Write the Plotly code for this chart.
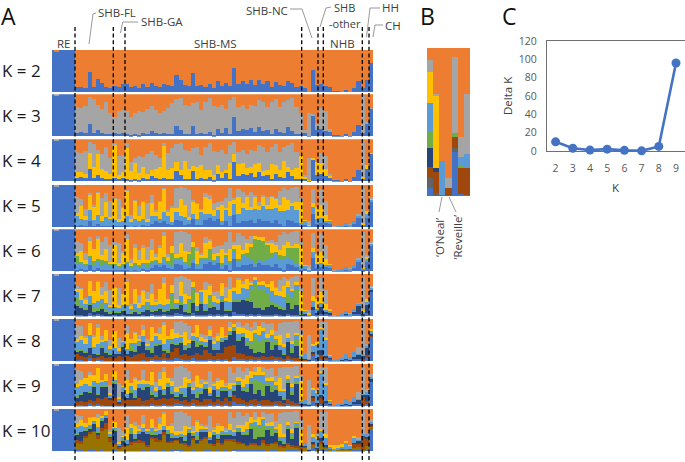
import plotly.graph_objects as go

W, H = 685, 462
C = dict(blue="#4472C4", orange="#ED7D31", gray="#A5A5A5", yellow="#FFC000", lt="#5B9BD5",
         green="#70AD47", navy="#264478", brown="#9E480E", dg="#636363", olive="#997300")

RE_BLUE = [100, 96, 100, 100, 100, 100]
RE_GRAY = [0, 4, 0, 0, 0, 0]

blue2 = [12,13,10,49,12,31,22,12,10,16,12,21,
         20,12,15,10,20,12,23,16,12,20,17,14,
         42,30,18,14,45,14,18,12,20,10,28,15,
         22,14,57,20,28,20,30,18,30,20,26,12,
         25,18,15,28,22,12,16,10,2,54,18,20,
         14,12,3,3,2,5,2,10,28,10,30,70]
blue3 = [8,10,7,30,8,14,8,6,6,8,5,7,
         6,4,6,4,8,5,12,8,5,8,6,5,
         25,16,6,5,24,6,8,5,10,4,18,8,
         20,6,45,12,18,14,20,10,22,12,16,5,
         18,10,8,22,12,5,6,8,2,50,15,18,
         12,10,3,3,2,5,2,10,28,8,30,65]
gray3 = [62,58,65,62,80,61,57,76,49,37,55,55,
         54,41,49,56,50,60,60,54,50,52,62,73,
         63,74,69,67,54,76,54,75,80,68,52,67,
         45,79,47,58,57,51,55,62,63,68,54,77,
         70,60,74,63,78,65,49,7,53,2,17,50,
         48,8,0,0,0,0,0,0,0,87,5,3]
yellow4 = [14,12,10,38,25,50,22,18,12,78,10,16,
           72,20,38,15,25,12,14,22,30,75,20,26,
           20,12,42,24,12,28,30,22,18,12,20,15,
           8,38,20,30,25,18,14,30,22,12,10,35,
           20,16,40,12,15,26,55,2,2,5,30,25,
           18,3,0,0,0,0,0,0,0,2,8,3]
gray4 = [48,46,55,24,55,11,35,58,37,4,45,39,
         12,21,11,41,25,48,46,32,20,7,42,47,
         43,62,27,43,42,48,24,53,62,56,32,52,
         37,41,27,28,32,33,41,32,41,56,44,42,
         50,44,34,51,63,39,0,5,51,0,0,25,
         30,5,0,0,0,0,0,0,0,85,0,0]
blue5 = [4,5,3,16,4,8,4,3,3,4,3,4,
         3,2,3,2,5,3,8,14,10,16,8,5,
         18,14,5,8,20,5,6,18,22,16,20,6,
         16,4,30,10,14,16,18,10,20,14,14,10,
         18,8,4,18,14,10,3,6,2,32,8,10,
         10,8,2,2,2,4,2,8,22,4,22,60]
lt5 = [22,16,14,24,14,22,12,22,16,14,10,12,
       24,10,18,12,16,10,20,14,10,20,18,8,
       18,14,20,10,12,14,30,14,10,10,20,10,
       24,22,26,22,32,26,24,34,22,36,30,34,
       28,30,34,24,36,30,8,10,2,16,12,12,
       6,8,1,2,4,6,4,8,6,4,10,5]
yellow5 = [8,30,10,38,32,52,10,34,6,50,6,30,
           60,8,42,14,40,8,30,10,40,55,12,34,
           10,40,28,6,30,38,6,40,34,16,8,38,
           6,36,10,40,12,32,6,30,8,24,8,28,
           22,16,34,22,8,20,50,2,2,10,28,30,
           14,2,0,0,0,0,0,0,0,2,6,3]
top5 = [72,68,44,80,52,84,70,80,62,70,66,48,
        88,30,64,50,62,58,76,40,62,92,40,50,
        94,96,92,88,64,58,44,80,76,58,60,62,
        70,92,70,90,84,76,84,76,60,76,72,74,
        70,86,92,88,94,96,70,10,14,90,34,90,
        62,6,4,4,5,6,8,10,32,92,38,72]
lt6 = [14,12,10,18,10,18,10,16,12,10,8,10,
       18,8,14,10,14,8,14,10,8,14,14,8,
       12,12,14,8,8,10,22,12,8,8,14,8,
       20,18,20,16,24,18,12,10,10,10,14,24,
       22,22,26,14,14,10,6,8,2,14,10,10,
       6,8,1,2,4,6,4,8,6,4,8,5]
green6 = [18,6,4,3,10,4,14,6,2,3,2,3,
          2,2,3,2,2,10,3,2,3,3,2,30,
          2,8,4,26,30,2,4,2,24,4,2,6,
          2,2,4,3,2,10,28,56,44,48,34,10,
          6,8,6,24,28,36,3,0,0,0,0,0,
          0,0,0,0,0,0,0,0,0,0,0,0]
yellow6 = [8,26,10,34,28,46,10,28,6,46,6,26,
           54,8,36,12,34,6,26,10,34,50,12,18,
           10,34,24,4,12,32,6,34,20,14,8,32,
           6,30,8,34,10,24,6,8,6,10,6,22,
           16,12,26,14,4,8,48,2,2,10,24,26,
           14,2,0,0,0,0,0,0,0,2,6,3]
blue7 = [3,3,2,8,3,5,3,2,2,3,2,3,
         2,2,2,2,3,2,5,4,3,5,3,3,
         8,5,3,3,8,3,3,3,5,3,6,3,
         5,2,10,5,6,4,6,4,6,4,4,3,
         5,3,2,6,4,3,2,3,2,15,4,6,
         6,4,2,2,2,4,2,6,6,2,8,58]
navy7 = [22,18,14,20,8,10,14,8,6,6,8,12,
         4,6,10,6,8,14,6,10,16,6,10,14,
         10,22,8,6,24,10,28,12,14,20,10,30,
         10,12,26,30,34,32,28,16,14,12,18,24,
         18,14,12,26,14,24,2,2,1,8,3,16,
         4,3,0,0,1,2,1,4,18,6,18,4]
brown8 = [14,10,8,6,4,6,10,6,8,4,10,8,
          12,8,14,16,18,8,6,12,8,14,6,20,
          24,10,14,10,8,18,12,24,16,10,14,18,
          30,34,28,16,12,8,6,6,4,8,6,10,
          6,8,4,6,5,4,3,2,1,2,3,10,
          3,2,0,0,0,0,0,0,0,4,6,2]
navy8 = [6,12,10,18,12,6,20,14,6,12,6,24,
         4,14,8,20,26,18,8,22,30,6,12,20,
         8,30,10,20,34,12,26,8,30,16,8,26,
         16,28,36,28,40,24,18,10,12,8,36,14,
         28,16,8,34,12,30,2,1,1,6,2,10,
         3,1,0,0,1,2,1,4,10,8,18,5]
lt8 = [20,24,18,28,14,20,10,24,12,10,6,10,
       10,6,16,8,12,6,14,20,8,12,26,8,
       14,10,8,8,8,10,6,8,6,10,18,6,
       6,5,6,12,6,10,8,10,16,20,6,14,
       8,10,14,6,10,12,4,12,2,14,30,50,
       40,8,2,3,6,12,8,12,2,2,6,8]
green8 = [3,2,4,2,2,4,3,3,2,2,1,2,
          2,14,3,2,2,3,14,2,2,4,6,3,
          2,2,4,3,2,14,2,2,3,3,2,3,
          2,2,2,3,2,10,10,36,24,34,4,22,
          6,2,6,3,10,14,2,0,0,0,0,0,
          0,0,0,0,0,0,0,0,0,0,0,0]
yellow8 = [6,10,14,28,24,38,4,24,6,40,6,2,
           36,8,26,6,12,4,34,8,14,44,8,22,
           10,6,30,6,6,30,8,8,14,6,14,24,
           2,10,6,16,12,18,24,8,22,4,8,10,
           6,24,6,12,8,3,50,0,0,4,6,6,
           4,1,0,0,0,0,0,0,0,0,0,3]
top8 = [86,84,60,82,62,88,60,72,50,66,56,48,
        86,46,70,62,86,52,74,58,80,92,52,66,
        92,96,90,84,60,74,64,62,84,58,66,60,
        56,92,78,94,84,90,80,94,72,92,88,90,
        72,90,94,92,94,96,74,12,62,34,40,94,
        92,10,3,4,6,12,8,14,34,92,40,76]
brown9 = [8,10,8,6,10,16,14,20,12,16,6,14,
          14,12,14,18,10,12,16,10,14,16,14,18,
          10,8,12,8,10,12,8,14,12,8,12,10,
          14,10,18,14,8,6,8,14,6,12,10,8,
          8,10,6,12,8,6,3,2,1,4,2,14,
          4,1,0,0,0,0,0,0,0,20,4,0]
navy9 = [10,14,24,18,34,8,30,24,6,36,4,18,
         4,18,6,24,28,32,6,10,22,6,30,10,
         6,18,8,36,12,6,20,26,8,28,6,24,
         18,12,10,32,24,24,38,12,26,8,36,22,
         28,12,8,38,14,44,2,1,1,6,2,8,
         3,1,0,0,1,2,1,4,10,6,16,6]
lt9 = [22,18,18,14,10,24,8,12,4,6,4,10,
       8,6,14,6,10,6,14,10,8,10,6,14,
       8,10,16,6,8,12,10,8,4,6,16,6,
       8,14,10,6,6,8,6,10,14,22,6,10,
       6,10,14,6,12,8,4,8,2,14,24,50,
       38,8,2,3,6,12,8,12,2,2,6,5]
green9 = [3,2,2,2,2,3,3,2,2,2,1,2,
          2,10,3,2,2,3,10,2,2,4,3,3,
          2,2,4,3,2,12,2,2,3,3,2,3,
          2,2,2,3,2,10,8,34,22,30,4,18,
          4,2,6,3,8,8,1,0,0,0,0,0,
          0,0,0,0,0,0,0,0,0,0,0,0]
yellow9 = [8,16,12,26,14,34,4,16,6,20,6,2,
           32,8,26,8,10,4,30,10,16,40,10,14,
           12,6,26,8,4,28,10,6,14,6,18,16,
           2,16,6,10,18,22,18,8,20,4,6,8,
           6,30,6,10,8,3,48,0,0,4,6,6,
           4,1,0,0,0,0,0,0,0,0,0,0]
blue10 = [3,3,2,4,3,2,3,2,2,3,2,2,
          2,2,2,2,3,2,3,3,2,3,2,3,
          5,3,2,2,4,2,2,3,3,2,3,2,
          4,2,5,4,3,3,4,3,3,3,2,3,
          4,2,2,3,3,3,2,2,1,12,3,5,
          4,3,1,1,1,1,1,3,3,2,6,55]
olive10 = [18,14,30,38,44,28,46,50,20,14,6,10,
           12,14,18,20,16,10,28,20,22,36,18,18,
           20,16,14,10,24,16,22,26,16,12,18,14,
           22,24,18,14,16,10,12,14,10,18,12,16,
           14,10,8,12,8,6,2,8,1,4,2,12,
           6,4,2,3,3,4,3,6,8,2,6,3]
brown10 = [6,8,4,4,2,10,6,14,10,4,4,4,
           2,6,4,4,6,4,4,8,4,6,2,4,
           4,2,4,3,4,4,6,6,2,4,6,3,
           4,4,6,4,2,3,4,4,2,6,4,2,
           4,4,2,6,3,4,8,2,1,2,2,8,
           2,1,0,1,1,0,1,10,6,30,18,2]
navy10 = [14,22,14,8,16,4,18,14,4,28,2,10,
          2,20,6,16,22,26,4,8,14,6,20,8,
          4,14,6,30,6,4,16,12,6,22,4,22,
          10,10,8,26,20,22,34,8,18,6,34,16,
          22,10,6,34,16,42,2,1,1,4,2,6,
          2,0,0,0,0,0,0,2,8,4,4,6]
lt10 = [14,10,6,6,4,10,4,4,4,4,2,6,
        6,4,8,4,6,4,6,6,6,4,6,8,
        4,6,8,4,5,8,6,6,3,4,8,4,
        5,8,6,4,3,4,4,6,8,14,4,6,
        4,6,10,4,6,4,1,6,1,14,20,16,
        18,4,2,2,6,14,8,10,2,2,6,3]
yellow10 = [8,14,8,18,10,22,4,10,6,14,6,2,
            30,8,20,6,10,4,22,8,14,30,8,16,
            10,4,22,6,4,24,8,4,12,4,18,12,
            2,14,6,8,16,18,16,6,18,4,6,8,
            6,30,8,8,8,3,36,0,0,4,6,6,
            8,3,10,8,6,5,3,6,0,0,0,0]

# "top" = height of the lower edge of the orange band; the gray band fills up to it.
PANELS = [
    ("K = 2", [("blue", blue2)]),
    ("K = 3", [("blue", blue3), ("gray", gray3)]),
    ("K = 4", [("blue", blue3), ("yellow", yellow4), ("gray", gray4)]),
    ("K = 5", [("blue", blue5), ("lt", lt5), ("yellow", yellow5), ("top", top5)]),
    ("K = 6", [("blue", blue5), ("lt", lt6), ("green", green6), ("yellow", yellow6), ("top", top5)]),
    ("K = 7", [("blue", blue7), ("navy", navy7), ("green", green6), ("lt", lt6), ("yellow", yellow6), ("top", top5)]),
    ("K = 8", [("blue", blue7), ("brown", brown8), ("navy", navy8), ("green", green8), ("lt", lt8), ("yellow", yellow8), ("top", top8)]),
    ("K = 9", [("blue", blue7), ("brown", brown9), ("navy", navy9), ("green", green9), ("lt", lt9), ("yellow", yellow9), ("top", top8)]),
    ("K = 10", [("blue", blue10), ("olive", olive10), ("brown", brown10), ("navy", navy10), ("green", green9), ("lt", lt10), ("yellow", yellow10), ("top", top8)]),
]
TOPS = [49.5, 94.3, 139.3, 184.5, 229.3, 274, 319, 364, 409]
PANEL_H = 42.4

group_labels = ["RE", "SHB-MS", "NHB"]
group_x = [64, 215, 342]
divider_x = [75, 113.3, 125, 301.7, 318, 323.3, 362.3, 369]

# Panel B
b_blue = [5.2, 0, 0.9, 0, 30, 1.4, 0.7]
b_dg = [7, 1.8, 0, 0.5, 2.7, 0, 0]
b_brown = [7.2, 14.4, 0, 4.7, 7, 17.4, 18]
b_navy = [13.1, 2.5, 0, 0, 0, 0, 0]
b_green = [10.8, 0, 0, 0, 2.7, 1.8, 0]
b_lt = [19.4, 0, 22.6, 0, 0, 5.9, 9.9]
b_yellow = [20.8, 49, 0, 0, 0, 0, 0]
b_gray = [8.1, 1.1, 0, 7, 51.2, 13.1, 40.2]
b_orange = [8.4, 31.2, 76.5, 87.8, 6.3, 60.5, 31.2]
b_series = [("blue", b_blue), ("dg", b_dg), ("brown", b_brown), ("navy", b_navy), ("green", b_green),
            ("lt", b_lt), ("yellow", b_yellow), ("gray", b_gray), ("orange", b_orange)]

# Panel C
delta_k_x = [2, 3, 4, 5, 6, 7, 8, 9]
delta_k_y = [10, 3, 1, 2, 0.7, 0.2, 5, 96]

FONT = "Open Sans, Noto Sans, sans-serif"
fig = go.Figure()
layout = {}


def px(x):
    return x / W


def py(y):
    return 1 - y / H


n_re = len(RE_BLUE)
for i, (label, series) in enumerate(PANELS):
    idx = i + 1
    suffix = "" if idx == 1 else str(idx)
    total = [0] * (n_re + 72)
    for key, vals in series:
        assert len(vals) == 72, (label, key, len(vals))
        if key == "top":
            vals = [max(0, t - s) for t, s in zip(vals, total[n_re:])]
            key = "gray"
        head = RE_BLUE if key == "blue" else RE_GRAY if key == "gray" else [0] * n_re
        full = head + vals
        total = [a + b for a, b in zip(total, full)]
        fig.add_bar(x=[c + 0.5 for c in range(len(full))], y=full, width=1, marker=dict(color=C[key], line_width=0),
                    xaxis="x" + suffix, yaxis="y" + suffix, showlegend=False, name=key)
    rest = [max(0, 100 - t) for t in total]
    fig.add_bar(x=[c + 0.5 for c in range(len(rest))], y=rest, width=1, marker=dict(color=C["orange"], line_width=0),
                xaxis="x" + suffix, yaxis="y" + suffix, showlegend=False, name="orange")
    layout["xaxis" + suffix] = dict(domain=[px(52), px(373)], range=[0.4, 78], visible=False, anchor="y" + suffix)
    layout["yaxis" + suffix] = dict(domain=[py(TOPS[i] + PANEL_H), py(TOPS[i])], range=[0, 100], visible=False,
                                    anchor="x" + suffix)

for key, vals in b_series:
    fig.add_bar(x=list(range(len(vals))), y=vals, width=1, marker=dict(color=C[key], line_width=0),
                xaxis="x10", yaxis="y10", showlegend=False, name=key)
layout["xaxis10"] = dict(domain=[px(427), px(470)], range=[-0.5, 6.5], visible=False, anchor="y10")
layout["yaxis10"] = dict(domain=[py(196), py(48)], range=[0, 100], visible=False, anchor="x10")

fig.add_scatter(x=delta_k_x, y=delta_k_y, mode="lines+markers", xaxis="x11", yaxis="y11", showlegend=False,
                line=dict(color=C["blue"], width=2.6), marker=dict(color=C["blue"], size=9), cliponaxis=False)
axis_font = dict(family=FONT, size=10.5, color="#595959")
layout["xaxis11"] = dict(domain=[px(547), px(684.6)], range=[1.5, 9.5], dtick=1, anchor="y11", showgrid=False,
                         zeroline=False, showline=True, mirror=True, linecolor="#6f6f6f", linewidth=1.2,
                         ticks="outside", ticklen=7, tickcolor="rgba(0,0,0,0)", tickfont=axis_font)
layout["yaxis11"] = dict(domain=[py(151), py(41)], range=[0, 120], dtick=20, anchor="x11", showgrid=False,
                         zeroline=False, showline=True, mirror=True, linecolor="#6f6f6f", linewidth=1.2,
                         ticks="outside", ticklen=7, tickcolor="rgba(0,0,0,0)", tickfont=axis_font)

shapes = []
for x in divider_x:
    shapes.append(dict(type="line", xref="paper", yref="paper", x0=px(x), x1=px(x), y0=py(27), y1=py(461.5),
                       line=dict(color="black", width=1.3, dash="4px,2.6px")))
leaders = [
    [(89, 44), (93, 14), (96, 13)],
    [(120.5, 33), (122.7, 22), (138, 22)],
    [(290, 9), (302, 9), (312, 38)],
    [(320, 27), (326, 8), (331, 7)],
    [(366.5, 37), (370, 8), (380, 8)],
    [(373, 37), (375, 25), (383, 25)],
    [(442, 197), (439, 212)],
    [(449, 197), (456, 212)],
]
for pts in leaders:
    for (x0, y0), (x1, y1) in zip(pts, pts[1:]):
        shapes.append(dict(type="line", xref="paper", yref="paper", x0=px(x0), x1=px(x1), y0=py(y0), y1=py(y1),
                           line=dict(color="#7f7f7f", width=0.8)))

ann = []


def text(s, x, y, size=11.5, color="#404040", anchor="left", angle=0):
    ann.append(dict(text=s, x=px(x), y=py(y), xref="paper", yref="paper", xanchor=anchor, yanchor="middle",
                    showarrow=False, textangle=angle, borderpad=0, font=dict(family=FONT, size=size, color=color)))


for s, x in zip(group_labels, group_x):
    text(s, x, 43, anchor="center")
text("SHB-FL", 97, 12.7)
text("SHB-GA", 140, 21.7)
text("SHB-NC", 245, 10)
text("SHB", 333, 7.5, size=11)
text("-other", 328, 23, size=11)
text("HH", 381, 8)
text("CH", 384, 26)
for (label, _), top in zip(PANELS, TOPS):
    text(label, 1, top + PANEL_H / 2, size=17, color="#1a1a1a")
text("A", 0, 16, size=23, color="#111111")
text("B", 419, 16, size=23, color="#111111")
text("C", 501, 16, size=23, color="#111111")
text("‘O’Neal’", 439, 237, size=11.5, anchor="center", angle=-90)
text("‘Reveille’", 457, 237.5, size=11.5, anchor="center", angle=-90)
text("Delta K", 507, 96, size=11.5, color="#404040", anchor="center", angle=-90)
text("K", 615.7, 187, size=11.5, color="#404040", anchor="center")

fig.update_layout(width=W, height=H, margin=dict(l=0, r=0, t=0, b=0, pad=0, autoexpand=False), barmode="stack", bargap=0,
                  paper_bgcolor="white", plot_bgcolor="white", shapes=shapes, annotations=ann, **layout)
fig.write_html("out.html", post_script="document.body.style.margin='0';", config=dict(displayModeBar=False))
